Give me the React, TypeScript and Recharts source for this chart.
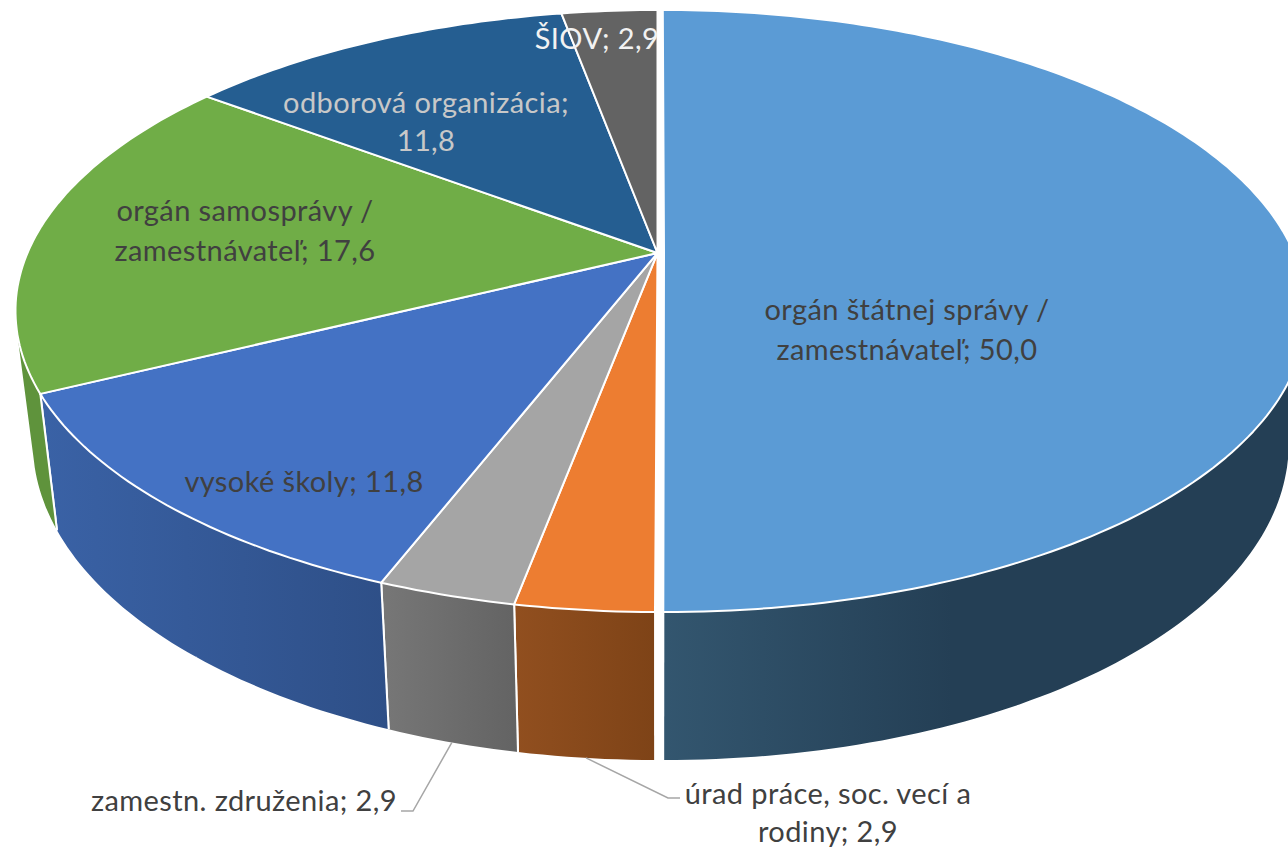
import { PieChart, Pie } from 'recharts';

const categories = [
  'orgán štátnej správy / zamestnávateľ',
  'úrad práce, soc. vecí a rodiny',
  'zamestn. združenia',
  'vysoké školy',
  'orgán samosprávy / zamestnávateľ',
  'odborová organizácia',
  'ŠIOV',
];
const shares = [50.0, 2.9, 2.9, 11.8, 17.6, 11.8, 2.9];

const topColors = ['#5b9bd5', '#ed7d31', '#a5a5a5', '#4472c4', '#70ad47', '#255e91', '#636363'];
const wallFrom = ['#33566f', '#914f1f', '#777777', '#3a62a6', '#5f933c', '#1f4f7a', '#555555'];
const wallTo = ['#243f55', '#7e4317', '#636363', '#2e4f87', '#5f933c', '#1f4f7a', '#555555'];
const wallStop = [0.45, 1, 1, 1, 1, 1, 1];
const explode = [6.5, 0, 0, 0, 0, 0, 0];

const labelLines = [
  ['orgán štátnej správy /', 'zamestnávateľ; 50,0'],
  ['úrad práce, soc. vecí a', 'rodiny; 2,9'],
  ['zamestn. združenia; 2,9'],
  ['vysoké školy; 11,8'],
  ['orgán samosprávy /', 'zamestnávateľ; 17,6'],
  ['odborová organizácia;', '11,8'],
  ['ŠIOV; 2,9'],
];
const labelColors = ['#404040', '#404040', '#404040', '#404040', '#404040', '#c8c8c8', '#f2f2f2'];
const labelSpots = [
  { x: 907, y: 320, gap: 40 },
  { x: 828, y: 804, gap: 38 },
  { x: 244, y: 811, gap: 0 },
  { x: 304, y: 492, gap: 0 },
  { x: 245, y: 221, gap: 40 },
  { x: 426, y: 113, gap: 38 },
  { x: 597, y: 49, gap: 0 },
];
const leaderElbows: ([number, number][] | null)[] = [
  null,
  [[668, 798], [680, 798]],
  [[413, 811], [401, 811]],
  null,
  null,
  null,
  null,
];

const pieData = categories.map((name, i) => ({ name, value: shares[i] }));

// the pie lies tilted in perspective, so a rim point is not on a plain circle
const TILT = 0.46;
const PERSPECTIVE = 0.1927;
const BASE_SHRINK = 0.973;

type Pt = { x: number; y: number };

function rimPoint(angle: number, cx: number, cy: number, r: number, shift: number) {
  const t = ((90 - angle) * Math.PI) / 180;
  const u = Math.sin(t);
  const v = -Math.cos(t);
  const d = 1 - PERSPECTIVE * v;
  const y = cy + (r * TILT * v) / d;
  const x = cx + (r * u) / d + (shift ? shift + 0.005 * (y - cy) : 0);
  return { x, y, v };
}

function basePoint(p: { x: number; y: number; v: number }, cx: number) {
  return { x: cx + (p.x - cx) * BASE_SHRINK, y: p.y + 127 + 21 * p.v };
}

function rimPath(start: number, end: number, cx: number, cy: number, r: number, shift: number) {
  const pts = [];
  const steps = Math.max(4, Math.ceil(Math.abs(end - start)));
  for (let i = 0; i <= steps; i++) {
    pts.push(rimPoint(start + ((end - start) * i) / steps, cx, cy, r, shift));
  }
  return pts;
}

const toPath = (pts: Pt[]) =>
  pts.map((p, i) => `${i ? 'L' : 'M'}${p.x.toFixed(1)} ${p.y.toFixed(1)}`).join(' ') + ' Z';

const signedArea = (pts: Pt[]) =>
  pts.reduce((sum, p, i) => {
    const q = pts[(i + 1) % pts.length];
    return sum + p.x * q.y - q.x * p.y;
  }, 0);

const TopFace = (props: any) => {
  const { cx, cy, outerRadius, startAngle, endAngle, index } = props;
  const shift = explode[index];
  const rim = rimPath(startAngle, endAngle, cx, cy, outerRadius, shift);
  const apex = { x: cx + shift, y: cy };
  return <path d={toPath([apex, ...rim])} fill={topColors[index]} stroke="#fff" strokeWidth={2} strokeLinejoin="round" />;
};

const WallFace = (props: any) => {
  const { cx, cy, outerRadius, startAngle, endAngle, index } = props;
  const rim = rimPath(startAngle, endAngle, cx, cy, outerRadius, explode[index]);
  const base = rim.map(p => basePoint(p, cx));
  const id = `wall-${index}`;
  const last = rim.length - 1;
  const xs = [...rim, ...base].map(p => p.x);
  // all quads wound the same way, else they cancel where the wall folds at its silhouette
  const strips = rim
    .slice(1)
    .map((p, i) => {
      const quad = [rim[i], p, base[i + 1], base[i]];
      return toPath(signedArea(quad) < 0 ? quad.reverse() : quad);
    })
    .join(' ');
  return (
    <g>
      <defs>
        <linearGradient id={id} gradientUnits="userSpaceOnUse" x1={Math.min(...xs)} y1="0" x2={Math.max(...xs)} y2="0">
          <stop offset={0} stopColor={wallFrom[index]} />
          <stop offset={wallStop[index]} stopColor={wallTo[index]} />
        </linearGradient>
      </defs>
      <path d={strips} fill={`url(#${id})`} />
      <path d={`M${rim[0].x} ${rim[0].y} L${base[0].x} ${base[0].y}`} stroke="#fff" strokeWidth={2} />
      <path d={`M${rim[last].x} ${rim[last].y} L${base[last].x} ${base[last].y}`} stroke="#fff" strokeWidth={2} />
    </g>
  );
};

const SliceLabel = (props: any) => {
  const { cx, cy, outerRadius, midAngle, index } = props;
  const spot = labelSpots[index];
  const elbows = leaderElbows[index];
  let leader = null;
  if (elbows) {
    const start = basePoint(rimPoint(midAngle, cx, cy, outerRadius, 0), cx);
    leader = (
      <polyline
        points={[[start.x, start.y], ...elbows].map(p => p.join(',')).join(' ')}
        fill="none"
        stroke="#a6a6a6"
        strokeWidth={1.5}
      />
    );
  }
  return (
    <g>
      {leader}
      <text textAnchor="middle" fontFamily="Lato" fontSize={29} letterSpacing={0.4} fill={labelColors[index]}>
        {labelLines[index].map((line, i) => (
          <tspan key={i} x={spot.x} y={spot.y + spot.gap * i}>
            {line}
          </tspan>
        ))}
      </text>
    </g>
  );
};

export default function App() {
  return (
    <div style={{ position: 'absolute', left: 0, top: 0, width: 1288, height: 849, overflow: 'hidden', background: '#fff' }}>
      <PieChart width={1288} height={849} margin={{ top: 0, right: 0, bottom: 0, left: 0 }}>
        <Pie
          data={pieData}
          dataKey="value"
          cx={657.5}
          cy={253}
          outerRadius={630}
          startAngle={90}
          endAngle={-270}
          shape={WallFace}
          isAnimationActive={false}
          rootTabIndex={-1}
        />
        <Pie
          data={pieData}
          dataKey="value"
          cx={657.5}
          cy={253}
          outerRadius={630}
          startAngle={90}
          endAngle={-270}
          shape={TopFace}
          label={SliceLabel}
          labelLine={false}
          isAnimationActive={false}
          rootTabIndex={-1}
        />
      </PieChart>
    </div>
  );
}
